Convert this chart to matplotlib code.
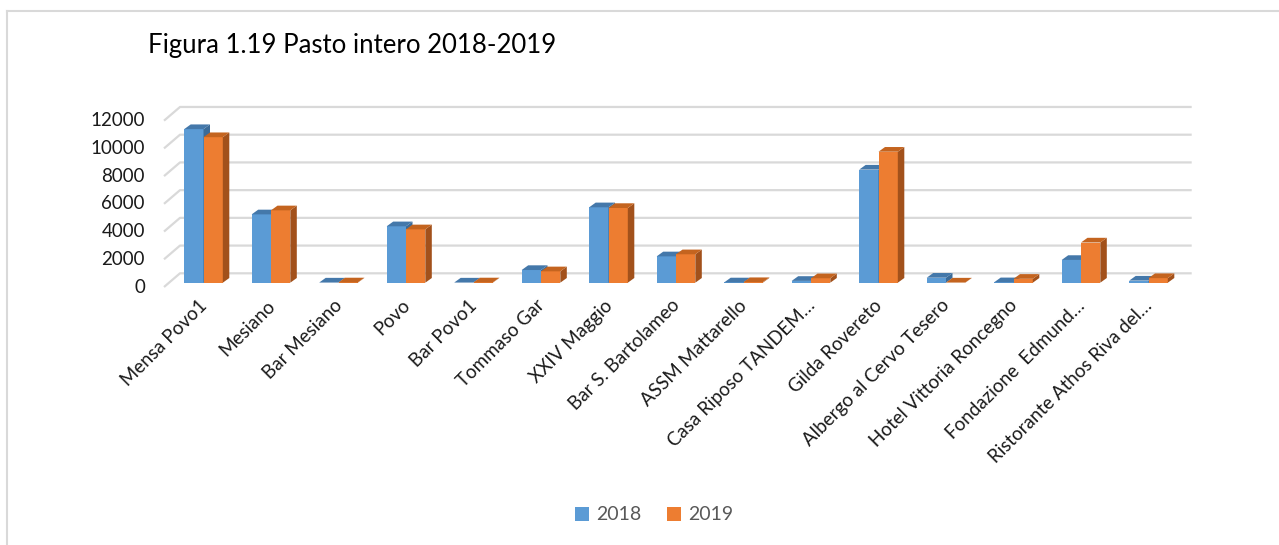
import matplotlib
matplotlib.use("Agg")
import matplotlib.pyplot as plt
from matplotlib.patches import Polygon, Patch
from matplotlib.lines import Line2D
import numpy as np

plt.rcParams['font.family'] = ['Lato', 'DejaVu Sans']

# ---------------- data ----------------
categories = ["Mensa Povo1", "Mesiano", "Bar Mesiano", "Povo", "Bar Povo1",
              "Tommaso Gar", "XXIV Maggio", "Bar S. Bartolameo", "ASSM Mattarello",
              "Casa Riposo TANDEM…", "Gilda Rovereto", "Albergo al Cervo Tesero",
              "Hotel Vittoria Roncegno", "Fondazione  Edmund…", "Ristorante Athos Riva del…"]
values_2018 = [11080, 4930, 10, 4070, 10, 915, 5440, 1900, 20, 130, 8160, 360, 30, 1640, 150]
values_2019 = [10500, 5220, 20, 3850, 20, 820, 5390, 2050, 40, 320, 9450, 10, 280, 2900, 330]
series_names = ["2018", "2019"]
yticks = [0, 2000, 4000, 6000, 8000, 10000, 12000]
title = "Figura 1.19 Pasto intero 2018-2019"

# ---------------- styling ----------------
W, H = 1279, 545
fig = plt.figure(figsize=(W / 100, H / 100), dpi=100)

front_cols = ["#5B9BD5", "#ED7D31"]
top_cols = ["#4478AA", "#C4641F"]
side_cols = ["#3B6B98", "#A2511B"]
grid_col = "#D9D9D9"

# axes geometry in pixels
ax_left_px, ax_right_px = 150, 1200
ax_top_px, ax_bot_px = 95, 300
ax = fig.add_axes([ax_left_px / W, 1 - ax_bot_px / H,
                   (ax_right_px - ax_left_px) / W, (ax_bot_px - ax_top_px) / H])

cat_px = 67.5          # pixels per category
x0_px = 203.5          # pixel of first category center
px_per_unit = 0.01386  # pixels per data unit in y
base_px = 282.7

xlim = ((ax_left_px - x0_px) / cat_px, (ax_right_px - x0_px) / cat_px)
ylim = (-(ax_bot_px - base_px) / px_per_unit, (base_px - ax_top_px) / px_per_unit)
ax.set_xlim(*xlim)
ax.set_ylim(*ylim)
ax.axis("off")

def xu(px):
    return px / cat_px

def yu(px):
    return px / px_per_unit

# back-wall gridlines with diagonal front edge
back_left = xu(180 - x0_px)
back_right = xu(1191.7 - x0_px)
front_left = xu(164 - x0_px)
back_dy = yu(9.4)
front_dy = -yu(4.3)
for v in yticks:
    ax.plot([front_left, back_left, back_right],
            [v + front_dy, v + back_dy, v + back_dy],
            color=grid_col, lw=1.6, zorder=1, solid_capstyle="butt")
    ax.text(front_left - xu(19), v + front_dy, f"{v}", ha="right", va="center",
            fontsize=13.5, color="#1a1a1a")

# 3D-like bars
bw = 0.286
ddx = xu(6.5)
ddy = yu(4.7)
x = np.arange(len(categories))
for i in range(len(categories)):
    for s, vals in enumerate([values_2018, values_2019]):
        v = vals[i]
        xl = x[i] - bw + s * bw
        xr = xl + bw
        z = 3 + s * 3
        ax.bar(xl, v, width=bw, align="edge", color=front_cols[s], zorder=z, linewidth=0)
        side = Polygon([(xr, 0), (xr + ddx, ddy), (xr + ddx, v + ddy), (xr, v)],
                       closed=True, facecolor=side_cols[s], edgecolor="none", zorder=z + 1)
        top = Polygon([(xl, v), (xl + ddx, v + ddy), (xr + ddx, v + ddy), (xr, v)],
                      closed=True, facecolor=top_cols[s], edgecolor="none", zorder=z + 2)
        ax.add_patch(side)
        ax.add_patch(top)

# category labels
for i, c in enumerate(categories):
    ax.text(x[i] - xu(5), -yu(14), c, rotation=45, ha="right", va="top",
            rotation_mode="anchor", fontsize=13.5, color="#1a1a1a", clip_on=False)

# title
fig.text(148 / W, 1 - 45 / H, title, ha="left", va="center", fontsize=18.5, color="black")

# legend
handles = [Patch(facecolor=front_cols[0], edgecolor="none"),
           Patch(facecolor=front_cols[1], edgecolor="none")]
fig.legend(handles, series_names, loc="center", bbox_to_anchor=(654 / W, 1 - 515 / H),
           ncol=2, frameon=False, fontsize=14, handlelength=0.75, handleheight=0.75,
           handletextpad=0.35, columnspacing=1.3, labelcolor="#595959")

# outer border (left and top)
fig.add_artist(Line2D([7 / W, 7 / W], [0, 1 - 11 / H], color=grid_col, lw=1.5,
                      transform=fig.transFigure))
fig.add_artist(Line2D([7 / W, 1], [1 - 11 / H, 1 - 11 / H], color=grid_col, lw=1.5,
                      transform=fig.transFigure))

fig.savefig("out.png", dpi=100)
